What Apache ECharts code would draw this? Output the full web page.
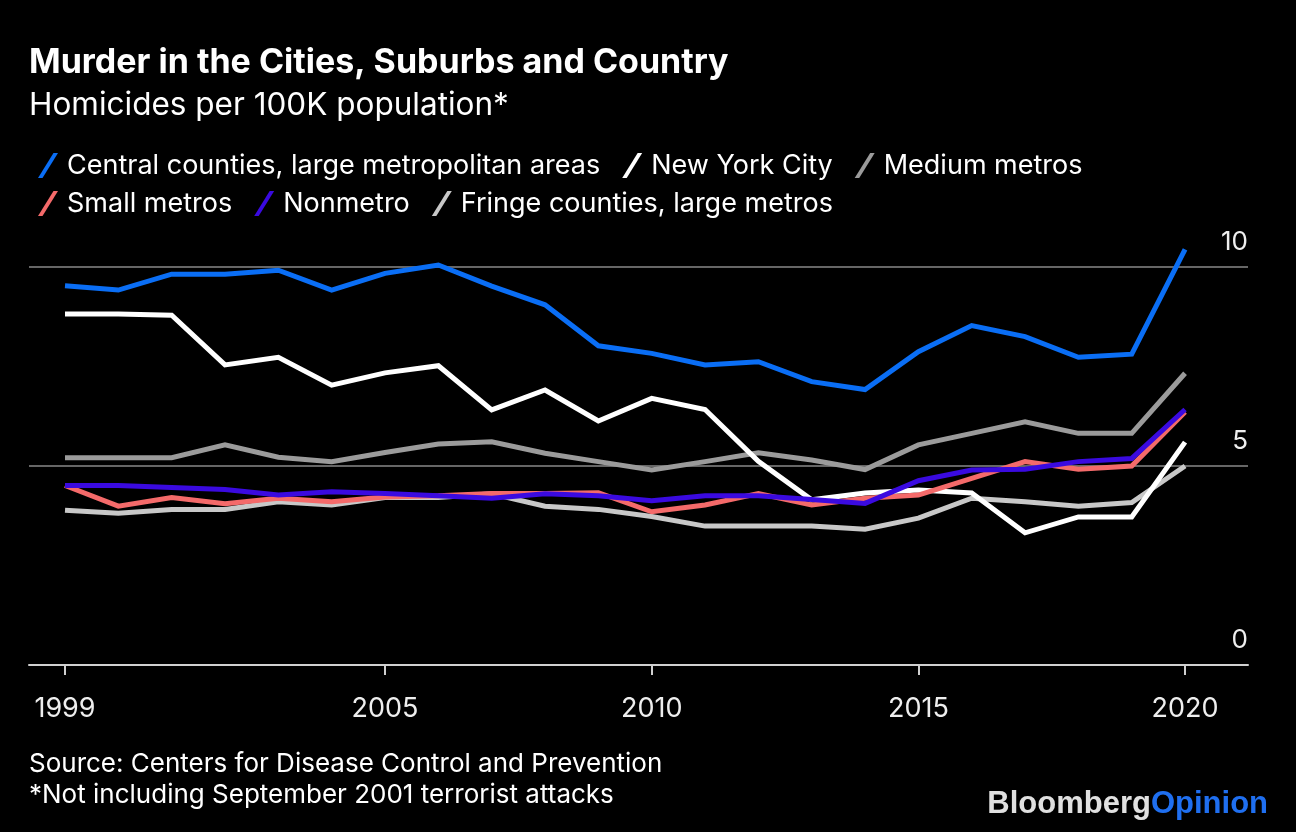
<!DOCTYPE html>
<html>
<head>
<meta charset="utf-8">
<script src="https://cdn.jsdelivr.net/npm/echarts@6/dist/echarts.min.js"></script>
<style>
  html, body { margin: 0; padding: 0; background: #000; }
  #chart { width: 1296px; height: 832px; }
</style>
</head>
<body>
<div id="chart"></div>
<script>
// Homicides per 100K population, 1999-2020
const years = [1999, 2000, 2001, 2002, 2003, 2004, 2005, 2006, 2007, 2008, 2009, 2010,
  2011, 2012, 2013, 2014, 2015, 2016, 2017, 2018, 2019, 2020]
const centralCounties = [9.53, 9.42, 9.82, 9.82, 9.92, 9.42, 9.84, 10.05, 9.52, 9.05, 8.02, 7.83,
  7.54, 7.62, 7.12, 6.92, 7.87, 8.53, 8.25, 7.73, 7.81, 10.44]
const newYorkCity = [8.82, 8.82, 8.79, 7.54, 7.73, 7.03, 7.34, 7.52, 6.41, 6.91, 6.13, 6.70,
  6.42, 5.12, 4.15, 4.32, 4.40, 4.32, 3.32, 3.72, 3.72, 5.60]
const mediumMetros = [5.21, 5.21, 5.21, 5.53, 5.22, 5.11, 5.34, 5.55, 5.61, 5.32, 5.11, 4.90,
  5.11, 5.33, 5.15, 4.91, 5.53, 5.82, 6.11, 5.82, 5.82, 7.33]
const smallMetros = [4.51, 3.99, 4.21, 4.05, 4.19, 4.10, 4.22, 4.25, 4.31, 4.31, 4.33, 3.85,
  4.02, 4.31, 4.02, 4.19, 4.27, 4.69, 5.11, 4.92, 5.00, 6.36]
const nonmetro = [4.51, 4.51, 4.46, 4.41, 4.27, 4.35, 4.31, 4.25, 4.19, 4.30, 4.25, 4.13,
  4.25, 4.25, 4.16, 4.06, 4.63, 4.90, 4.92, 5.11, 5.19, 6.42]
const fringeCounties = [3.89, 3.81, 3.91, 3.91, 4.10, 4.02, 4.21, 4.21, 4.30, 3.99, 3.91, 3.73,
  3.49, 3.49, 3.49, 3.41, 3.69, 4.19, 4.10, 3.99, 4.08, 5.00]

const xTickYears = [1999, 2005, 2010, 2015, 2020]
const yTicks = [0, 5, 10]

const legendRow1 = ['Central counties, large metropolitan areas', 'New York City', 'Medium metros']
const legendRow2 = ['Small metros', 'Nonmetro', 'Fringe counties, large metros']

const FONT = 'Inter, "Liberation Sans", Arial, sans-serif'
const slash = 'path://M0,10 L6.2,0 L8,0 L1.8,10 Z'

function pairs(values) {
  return years.map((y, i) => [y, values[i]])
}

const chart = echarts.init(document.getElementById('chart'))

function line(name, values, color) {
  return {
    name,
    type: 'line',
    data: pairs(values),
    symbol: 'none',
    clip: false,
    lineStyle: { color, width: 5, join: 'miter' },
    itemStyle: { color },
  }
}

const legendBase = {
  left: 38,
  padding: 0,
  itemWidth: 20,
  itemHeight: 26,
  itemGap: 22,
  icon: slash,
  textStyle: { color: '#fff', fontSize: 27, fontFamily: FONT, padding: [0, 0, 0, 4] },
  selectedMode: false,
}

chart.setOption({
  backgroundColor: '#000',
  animation: false,
  title: [
    {
      text: 'Murder in the Cities, Suburbs and Country',
      left: 29,
      top: 46,
      padding: 0,
      textStyle: { color: '#fff', fontSize: 34, fontWeight: 'bold', fontFamily: FONT },
    },
    {
      text: 'Homicides per 100K population*',
      left: 29,
      top: 90,
      padding: 0,
      textStyle: { color: '#fff', fontSize: 31.5, fontWeight: 'normal', fontFamily: FONT },
    },
  ],
  legend: [
    Object.assign({ top: 152, data: legendRow1 }, legendBase),
    Object.assign({ top: 190, data: legendRow2 }, legendBase),
  ],
  grid: { left: 29, right: 48, top: 267, bottom: 167 },
  xAxis: {
    type: 'value',
    min: 1998.325,
    max: 2021.18,
    splitLine: { show: false },
    axisLine: { show: true, lineStyle: { color: '#d0d0d0', width: 2 } },
    axisTick: {
      show: true,
      customValues: xTickYears,
      length: 10,
      lineStyle: { color: '#d0d0d0', width: 2 },
    },
    axisLabel: {
      customValues: xTickYears,
      color: '#eee',
      fontSize: 27,
      fontFamily: FONT,
      margin: 30,
      formatter: v => String(v),
    },
  },
  yAxis: {
    type: 'value',
    position: 'right',
    min: 0,
    max: 10,
    interval: 5,
    axisLine: { show: false },
    axisTick: { show: false },
    splitLine: { lineStyle: { color: '#666', width: 2 } },
    axisLabel: {
      inside: true,
      margin: 0,
      color: '#eee',
      fontSize: 26,
      fontFamily: FONT,
      verticalAlign: 'bottom',
      padding: [0, 0, 12, 0],
      formatter: v => (yTicks.includes(v) ? String(v) : ''),
    },
  },
  series: [
    line('Fringe counties, large metros', fringeCounties, '#c8c8c8'),
    line('Medium metros', mediumMetros, '#9b9b9b'),
    line('New York City', newYorkCity, '#ffffff'),
    line('Small metros', smallMetros, '#f46a6a'),
    line('Nonmetro', nonmetro, '#3a0ae0'),
    line('Central counties, large metropolitan areas', centralCounties, '#0a6ef5'),
  ],
  graphic: [
    {
      type: 'text',
      left: 29,
      top: 749,
      style: {
        text: 'Source: Centers for Disease Control and Prevention\n*Not including September 2001 terrorist attacks',
        fill: '#fff',
        font: '26px ' + FONT,
        lineHeight: 31,
      },
    },
    {
      type: 'text',
      right: 28,
      top: 789,
      style: {
        text: '{a|Bloomberg}{b|Opinion}',
        rich: {
          a: { fill: '#e0e0e0', font: 'bold 31px "Liberation Sans", Arial, sans-serif' },
          b: { fill: '#1f6ff0', font: 'bold 31px "Liberation Sans", Arial, sans-serif' },
        },
      },
    },
  ],
})
</script>
</body>
</html>
